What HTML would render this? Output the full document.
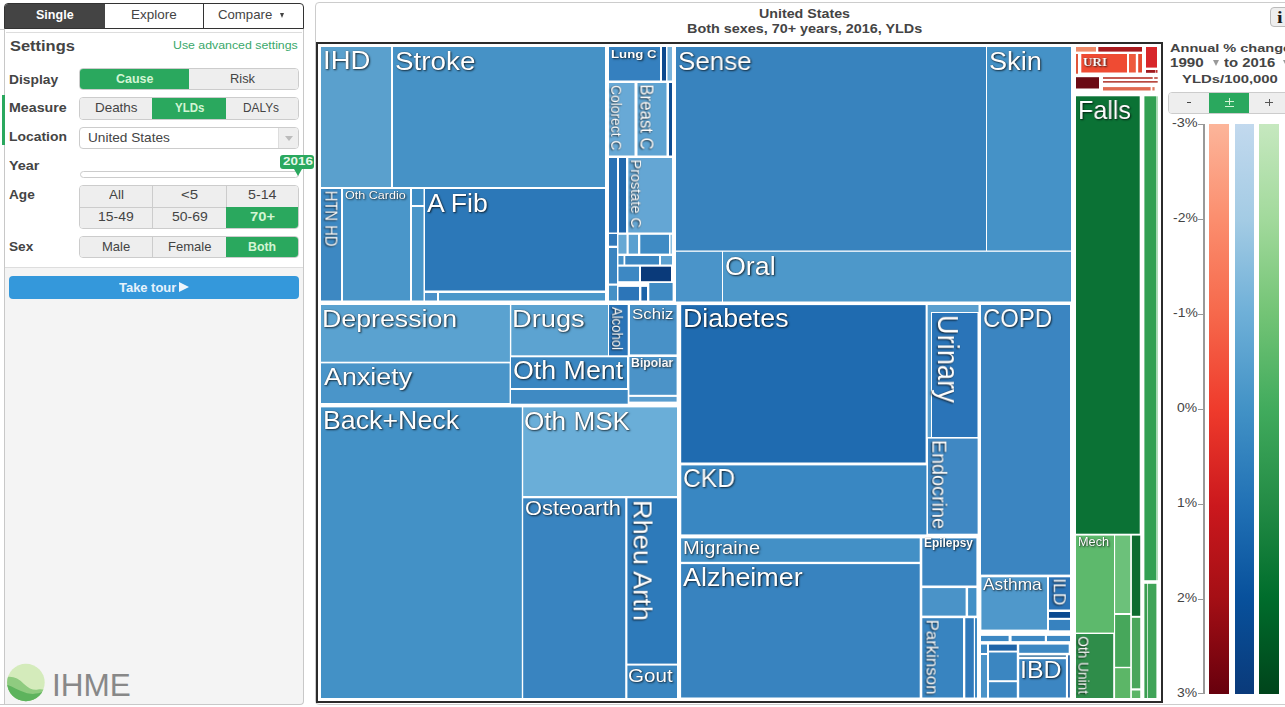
<!DOCTYPE html>
<html><head><meta charset="utf-8">
<style>
*{box-sizing:border-box;margin:0;padding:0}
html,body{width:1285px;height:707px;overflow:hidden;background:#fff;font-family:"Liberation Sans",sans-serif;color:#444}
.a{position:absolute}
.t{position:absolute}
.l{position:absolute;white-space:nowrap;color:#fff;transform-origin:0 0;text-shadow:1px 1px 2px rgba(0,0,0,.7),0 0 1px rgba(0,0,0,.6);will-change:transform}
.lbl{position:absolute;font-weight:bold;font-size:13px;color:#444;white-space:nowrap}
.btn{position:absolute;background:#eee;border:1px solid #ccc;font-size:12.5px;color:#444;text-align:center;white-space:nowrap}
.btn.on{background:#2aa85e;border-color:#2aa85e;color:#d8f5dc;font-weight:bold}
.seg{position:absolute;border-radius:4px;overflow:hidden;border:1px solid #ccc}
.seg div{position:absolute;top:0;bottom:0;background:#eee;font-size:12.5px;color:#444;text-align:center;white-space:nowrap;border-left:1px solid #ccc}
.seg div.on{background:#2aa85e;color:#d8f5dc;font-weight:bold;border-left-color:#2aa85e}
.x{position:absolute;white-space:nowrap;transform-origin:0 0}
</style></head><body>

<!-- LEFT PANEL -->
<div class="a" style="left:4px;top:28px;width:300px;height:676.8px;border:1px solid #c8c8c8;border-top:none;border-radius:0 0 4px 0;background:#f4f4f4"></div>
<div class="a" style="left:0;top:703.8px;width:6px;height:1px;background:#c8c8c8"></div>
<div class="a" style="left:0;top:29px;width:4.5px;height:1px;background:#ccc"></div>
<div class="a" style="left:5px;top:28.6px;width:298px;height:238.6px;background:#fff"></div>
<div class="a" style="left:5px;top:267px;width:298px;height:1px;background:#ddd"></div>
<div class="a" style="left:6px;top:32px;width:296px;height:1px;background:#ddd"></div>
<div class="a" style="left:1.5px;top:95px;width:3.5px;height:49.5px;background:#2aa85e"></div>

<!-- tabs -->
<div class="a" style="left:4px;top:2.5px;width:300px;height:26.5px;border:1px solid #333;border-radius:4px 4px 0 0;background:#fff;overflow:hidden">
  <div class="a" style="left:0;top:0;width:100px;height:100%;background:#444;color:#fff;font-weight:bold;font-size:12.5px;text-align:center;line-height:25px"></div>
  <div class="a" style="left:100px;top:0;width:99px;height:100%;border-right:1px solid #333;font-size:12.5px;text-align:center;line-height:25px;color:#444"></div>
  <div class="a" style="left:199px;top:0;width:100px;height:100%;font-size:12.5px;text-align:center;line-height:25px;color:#444"></div>
</div>



<div class="seg" style="left:79px;top:68.3px;width:219.5px;height:22.2px">
  <div class="on" style="left:0;width:109px;line-height:20px;border-left:none"></div>
  <div style="left:109px;right:0;line-height:20px;border-left:none"></div>
</div>
<div class="seg" style="left:79px;top:97.4px;width:219.5px;height:22.3px">
  <div style="left:0;width:72px;line-height:20px;border-left:none"></div>
  <div class="on" style="left:72px;width:74px;line-height:20px;border-left:none"></div>
  <div style="left:146px;right:0;line-height:20px;border-left:none"></div>
</div>
<div class="a" style="left:79px;top:126.5px;width:219.5px;height:22px;border:1px solid #ccc;border-radius:4px;background:#fff;overflow:hidden">
    <div class="a" style="right:0;top:0;width:19.5px;height:100%;background:#eee;border-left:1px solid #ddd"></div>
  <div class="a" style="right:5px;top:8px;width:0;height:0;border-left:4.5px solid transparent;border-right:4.5px solid transparent;border-top:5px solid #bbb"></div>
</div>
<!-- slider -->
<div class="a" style="left:79.5px;top:171.3px;width:219px;height:6.4px;border:1px solid #ccc;border-radius:4px;background:#fff"></div>
<div class="a" style="left:280px;top:155.3px;width:34px;height:13.3px;background:#2aa85e;border-radius:3px;color:#e8f8ea;font-weight:bold;font-size:10.5px;line-height:13px;text-align:center"></div>
<div class="a" style="left:293.5px;top:168.5px;width:0;height:0;border-left:4.5px solid transparent;border-right:4.5px solid transparent;border-top:7px solid #2aa85e"></div>

<div class="seg" style="left:79.3px;top:184.7px;width:219.5px;height:44.8px">
  <div style="left:0;width:72px;height:22px;line-height:21px;border-left:none"></div>
  <div style="left:72px;width:74px;height:22px;line-height:21px"></div>
  <div style="left:146px;right:0;height:22px;line-height:21px"></div>
  <div style="left:0;width:72px;top:21.8px;line-height:21px;border-left:none;border-top:1px solid #ccc"></div>
  <div style="left:72px;width:74px;top:21.8px;line-height:21px;border-top:1px solid #ccc"></div>
  <div class="on" style="left:146px;right:0;top:21.8px;line-height:21px;border-top:1px solid #2aa85e"></div>
</div>
<div class="seg" style="left:79.3px;top:236.4px;width:219.5px;height:22px">
  <div style="left:0;width:72px;line-height:20px;border-left:none"></div>
  <div style="left:72px;width:74px;line-height:20px"></div>
  <div class="on" style="left:146px;right:0;line-height:20px"></div>
</div>

<div class="a" style="left:9px;top:276.2px;width:290px;height:22.4px;background:#3498db;border-radius:4px;color:#e8f4fc;font-weight:bold;font-size:12.5px;line-height:22px;text-align:center"></div>

<!-- IHME logo -->
<svg class="a" style="left:0;top:650px" width="60" height="57" viewBox="0 650 60 57">
  <defs><clipPath id="cc"><circle cx="25.9" cy="682.5" r="18.8"/></clipPath></defs>
  <circle cx="25.9" cy="682.5" r="18.8" fill="#d4ebbb"/>
  <g clip-path="url(#cc)">
    <path d="M5 677.5 C12 675.5 18 678 24 684 C29 689 34 690.5 38 689.5 C41 689 43 689.5 46 690 L46 705 L5 705Z" fill="#8fcb80"/>
    <path d="M5 684 C12 686 18 690 25 692.5 C32 695 38 694 46 691 L46 705 L5 705Z" fill="#5db35d"/>
  </g>
</svg>

<!-- CHART PANEL -->
<div class="a" style="left:314.5px;top:2px;width:990px;height:702.5px;border:1px solid #ccc;border-radius:4px;background:#fff"></div>
<div class="a" style="left:1270px;top:7px;width:30px;height:19.6px;border:1px solid #bbb;border-radius:4px;background:#eee"></div>
<div class="a" style="left:1276.6px;top:6.6px;font-family:'Liberation Serif',serif;font-weight:bold;font-size:17.5px;color:#1a1a1a;transform:scaleX(1.15);transform-origin:0 0">i</div>

<!-- treemap -->
<div class="a" style="left:316px;top:42px;width:846.7px;height:660.5px;border:2px solid #2b2b2b;background:#fff"></div>
<svg class="a" style="left:0;top:0" width="1285" height="707"><rect x="321" y="47" width="70" height="140" fill="#5aa0cd"/><rect x="393" y="47" width="212" height="140" fill="#4692c6"/><rect x="321" y="189" width="20" height="111.5" fill="#3d88c2"/><rect x="343" y="189" width="67" height="111.5" fill="#4a96c9"/><rect x="412" y="189" width="11.5" height="16" fill="#3f8dc4"/><rect x="412" y="207" width="11.5" height="93.5" fill="#4a96c9"/><rect x="425" y="189" width="180" height="101.5" fill="#2c78b8"/><rect x="425" y="293" width="12" height="7.5" fill="#4a90c8"/><rect x="439" y="293" width="166" height="7.5" fill="#4b97ca"/><rect x="609" y="47" width="51" height="33.5" fill="#3580bf"/><rect x="662" y="47" width="4" height="33.5" fill="#0d4a8f"/><rect x="667.5" y="47" width="4.5" height="33.5" fill="#7ab3db"/><rect x="609" y="83" width="25.5" height="72.5" fill="#68a9d6"/><rect x="637.5" y="83" width="29" height="72.5" fill="#5ea3d2"/><rect x="669" y="83" width="3" height="72.5" fill="#0f4d92"/><rect x="609" y="158" width="8" height="74.5" fill="#2a72b5"/><rect x="619" y="158" width="7" height="74.5" fill="#2068ad"/><rect x="628.3" y="158" width="43.7" height="74.5" fill="#64a6d4"/><rect x="609" y="234" width="8" height="11.7" fill="#2f78b9"/><rect x="609" y="248" width="8" height="35.5" fill="#3a84c0"/><rect x="609" y="285.7" width="8" height="14.8" fill="#4590c6"/><rect x="618.5" y="234.8" width="8" height="18.8" fill="#66a8d4"/><rect x="628.7" y="234.8" width="9.3" height="18.8" fill="#5aa0d0"/><rect x="640.3" y="234.8" width="28.7" height="18.8" fill="#3f8bc4"/><rect x="670.5" y="234.8" width="1.5" height="18.8" fill="#8cc0e0"/><rect x="618.5" y="256" width="5" height="8.5" fill="#4791c7"/><rect x="625.3" y="256" width="33.7" height="8.5" fill="#3b86c1"/><rect x="661" y="256" width="11" height="8.5" fill="#5ea2d1"/><rect x="618.5" y="266.7" width="20.5" height="14.5" fill="#3d88c3"/><rect x="641" y="266.7" width="30" height="14.5" fill="#0a3a7a"/><rect x="618.5" y="286.9" width="20.5" height="13.6" fill="#2c75b8"/><rect x="641.4" y="286.9" width="5.6" height="13.6" fill="#1c63a8"/><rect x="649.3" y="283" width="23.3" height="17.6" fill="#3f8bc4"/><rect x="676" y="47" width="310" height="203.5" fill="#3883be"/><rect x="987" y="47" width="84" height="203.5" fill="#4592c7"/><rect x="676" y="251.8" width="46" height="49.7" fill="#4a94c9"/><rect x="723" y="251.8" width="348" height="49.7" fill="#4d98ca"/><rect x="321" y="305" width="188.9" height="56.7" fill="#5aa2d0"/><rect x="321" y="363.4" width="188.6" height="39.6" fill="#4a95c9"/><rect x="511.3" y="305" width="96.7" height="50.3" fill="#5ca3d1"/><rect x="609" y="305" width="18.7" height="50.3" fill="#2a74b8"/><rect x="630" y="305" width="46.6" height="49.4" fill="#4891c7"/><rect x="511" y="357.3" width="116" height="30.7" fill="#3a86c1"/><rect x="511" y="390" width="116.7" height="13.7" fill="#3f8ac3"/><rect x="629.4" y="357" width="47.2" height="37.8" fill="#4b93c8"/><rect x="629.4" y="396.9" width="47.2" height="4.7" fill="#5a9ecf"/><rect x="321" y="407.4" width="200.8" height="290.6" fill="#4391c6"/><rect x="523.2" y="407.4" width="153.8" height="88.6" fill="#6aaed8"/><rect x="523.2" y="498.3" width="102" height="199.7" fill="#3984c0"/><rect x="627.4" y="498.3" width="49.6" height="165.3" fill="#2d7aba"/><rect x="627.4" y="665.6" width="49.6" height="32.4" fill="#3a86c1"/><rect x="681.2" y="305.1" width="244.4" height="157.4" fill="#1f6bb0"/><rect x="681.3" y="465.4" width="245.1" height="69" fill="#3987c2"/><rect x="927.7" y="305" width="50.8" height="7" fill="#5a9fcf"/><rect x="927.7" y="312" width="3.3" height="125" fill="#5aa0d0"/><rect x="932" y="313" width="45.5" height="124" fill="#2a74b8"/><rect x="928" y="438.6" width="49.6" height="95.1" fill="#4088c3"/><rect x="681.1" y="538.4" width="238.6" height="23.4" fill="#4390c6"/><rect x="681.1" y="564.1" width="238.6" height="133.4" fill="#3883bf"/><rect x="922.3" y="538.4" width="54.1" height="47.1" fill="#3c86c1"/><rect x="922.3" y="588.1" width="43.3" height="27.5" fill="#4a93c8"/><rect x="968.1" y="588.1" width="8.3" height="27.5" fill="#4390c6"/><rect x="922.3" y="618.2" width="40.7" height="79.3" fill="#3884c0"/><rect x="965.3" y="618.2" width="8.5" height="79.3" fill="#2f79ba"/><rect x="975" y="618.2" width="2" height="79.3" fill="#3d88c3"/><rect x="981" y="305" width="89" height="269.6" fill="#3b85c1"/><rect x="981.4" y="577.3" width="65.6" height="52.3" fill="#4f98cb"/><rect x="1049" y="577.3" width="21" height="32.2" fill="#2b73b7"/><rect x="1049" y="612" width="21" height="5.8" fill="#0b4a91"/><rect x="1049" y="619.9" width="21" height="10.4" fill="#3782bf"/><rect x="981" y="635.9" width="27.6" height="5.2" fill="#3d88c3"/><rect x="1011.6" y="635.9" width="33.2" height="5.2" fill="#3d88c3"/><rect x="1047" y="635.9" width="23" height="5.2" fill="#3d88c3"/><rect x="981" y="644.6" width="6" height="8.4" fill="#3d88c3"/><rect x="981" y="655" width="6" height="42.6" fill="#4a93c8"/><rect x="989" y="644.6" width="27.8" height="6" fill="#1f64a8"/><rect x="989" y="652.5" width="27.8" height="27.7" fill="#3b86c1"/><rect x="989" y="682.2" width="27.8" height="15.4" fill="#3b86c1"/><rect x="1019.2" y="644.6" width="49.5" height="8.2" fill="#3d88c3"/><rect x="1019.2" y="655.3" width="46.7" height="1.6" fill="#4d80a8"/><rect x="1019.2" y="659.2" width="46.7" height="38.3" fill="#3c86c2"/><rect x="1068.1" y="655.3" width="1.7" height="42.2" fill="#1f5fa5"/><rect x="1076" y="47" width="20" height="4.6" fill="#f08a68"/><rect x="1098.3" y="47" width="43.7" height="4.6" fill="#a81a1f"/><rect x="1146" y="47" width="11" height="20.6" fill="#d8262a"/><rect x="1076" y="54" width="2" height="19.7" fill="#e0553a"/><rect x="1081.3" y="54" width="45.7" height="18.5" fill="#ef4b33"/><rect x="1129" y="54" width="6.8" height="18.5" fill="#ee5a3d"/><rect x="1138.2" y="54" width="3.8" height="18.5" fill="#e44a30"/><rect x="1146" y="70" width="9" height="2.8" fill="#a01a1f"/><rect x="1076" y="77.2" width="23" height="11.3" fill="#6b0a14"/><rect x="1103" y="77.1" width="49.7" height="1.8" fill="#c04a40"/><rect x="1103" y="81" width="54.7" height="1.7" fill="#b84a40"/><rect x="1103" y="87.1" width="47.6" height="3.4" fill="#e06a50"/><rect x="1155.5" y="70" width="2" height="2.8" fill="#c03030"/><rect x="1154.2" y="77.1" width="3.5" height="1.8" fill="#c05a50"/><rect x="1152.4" y="87.1" width="2.2" height="3.4" fill="#e07a60"/><rect x="1076" y="96.3" width="63.7" height="437.4" fill="#0b7235"/><rect x="1144.4" y="96.3" width="12" height="483.9" fill="#32a052"/><rect x="1156.9" y="96.3" width="0.7" height="483.9" fill="#7cc888"/><rect x="1076" y="535.6" width="38" height="97" fill="#5db96c"/><rect x="1076" y="634" width="37.2" height="64" fill="#2f8d4a"/><rect x="1115.1" y="535.6" width="15.1" height="77.4" fill="#6cc17a"/><rect x="1115.1" y="615" width="15.1" height="51.8" fill="#47a75b"/><rect x="1115.1" y="668.2" width="15.1" height="29.8" fill="#5cb667"/><rect x="1131.9" y="535.6" width="8.3" height="80.2" fill="#0d6b2f"/><rect x="1131.9" y="617.8" width="8.3" height="70.5" fill="#4aa65b"/><rect x="1131.9" y="690.5" width="8.3" height="7.5" fill="#5cb567"/><rect x="1144.4" y="583.8" width="2.9" height="114.2" fill="#3b9e52"/><rect x="1148" y="583.8" width="8.4" height="114.2" fill="#40a458"/></svg>
<div class="l" style="left:322.82px;top:48.43px;font-size:25.36px;line-height:25.36px;transform:scaleX(1.085);">IHD</div>
<div class="l" style="left:394.55px;top:47.64px;font-size:26.52px;line-height:26.52px;transform:scaleX(1.049);">Stroke</div>
<div class="l" style="left:345.03px;top:189.06px;font-size:11.74px;line-height:11.74px;transform:scaleX(1.072);">Oth Cardio</div>
<div class="l" style="left:426.8px;top:189.52px;font-size:26.67px;line-height:26.67px;transform:scaleX(1.001);">A Fib</div>
<div class="l" style="left:610.54px;top:49.23px;font-size:11.3px;line-height:11.3px;transform:scaleX(1.172);font-weight:bold;">Lung C</div>
<div class="l" style="left:677.73px;top:47.69px;font-size:26.23px;line-height:26.23px;transform:scaleX(0.990);">Sense</div>
<div class="l" style="left:988.88px;top:47.69px;font-size:26.23px;line-height:26.23px;transform:scaleX(1.035);">Skin</div>
<div class="l" style="left:724.69px;top:252.77px;font-size:26.38px;line-height:26.38px;transform:scaleX(1.017);">Oral</div>
<div class="l" style="left:322.26px;top:307.26px;font-size:24.49px;line-height:24.49px;transform:scaleX(1.092);">Depression</div>
<div class="l" style="left:323.6px;top:365.06px;font-size:24.49px;line-height:24.49px;transform:scaleX(1.099);">Anxiety</div>
<div class="l" style="left:512.22px;top:306.74px;font-size:24.64px;line-height:24.64px;transform:scaleX(1.106);">Drugs</div>
<div class="l" style="left:631.64px;top:306.61px;font-size:14.64px;line-height:14.64px;transform:scaleX(1.157);">Schiz</div>
<div class="l" style="left:512.7px;top:358.17px;font-size:25.07px;line-height:25.07px;transform:scaleX(1.068);">Oth Ment</div>
<div class="l" style="left:630.8px;top:357.27px;font-size:12.32px;line-height:12.32px;transform:scaleX(0.994);font-weight:bold;">Bipolar</div>
<div class="l" style="left:322.66px;top:408.25px;font-size:25.22px;line-height:25.22px;transform:scaleX(1.061);">Back+Neck</div>
<div class="l" style="left:524.42px;top:407.91px;font-size:26.09px;line-height:26.09px;transform:scaleX(1.002);">Oth MSK</div>
<div class="l" style="left:524.62px;top:498.69px;font-size:19.86px;line-height:19.86px;transform:scaleX(1.099);">Osteoarth</div>
<div class="l" style="left:628.47px;top:666.55px;font-size:18.84px;line-height:18.84px;transform:scaleX(1.094);">Gout</div>
<div class="l" style="left:682.56px;top:306.47px;font-size:25.07px;line-height:25.07px;transform:scaleX(1.067);">Diabetes</div>
<div class="l" style="left:683.07px;top:465.93px;font-size:25.36px;line-height:25.36px;transform:scaleX(0.973);">CKD</div>
<div class="l" style="left:682.69px;top:539.36px;font-size:18.12px;line-height:18.12px;transform:scaleX(1.111);">Migraine</div>
<div class="l" style="left:683.4px;top:565.45px;font-size:25.22px;line-height:25.22px;transform:scaleX(1.068);">Alzheimer</div>
<div class="l" style="left:923.93px;top:538.34px;font-size:11.88px;line-height:11.88px;transform:scaleX(1.002);font-weight:bold;">Epilepsy</div>
<div class="l" style="left:982.9px;top:306.23px;font-size:25.36px;line-height:25.36px;transform:scaleX(0.943);">COPD</div>
<div class="l" style="left:983.2px;top:577.34px;font-size:16.96px;line-height:16.96px;transform:scaleX(1.023);">Asthma</div>
<div class="l" style="left:1019.75px;top:659.49px;font-size:23.04px;line-height:23.04px;transform:scaleX(1.083);">IBD</div>
<div class="l" style="left:1078.09px;top:96.71px;font-size:26.09px;line-height:26.09px;transform:scaleX(0.961);">Falls</div>
<div class="l" style="left:1077.68px;top:536.49px;font-size:12.17px;line-height:12.17px;transform:scaleX(1.046);">Mech</div>
<div class="l" style="left:0;top:0;font-size:16.52px;line-height:16.52px;transform:translate(338.39px,190.72px) rotate(90deg) scaleX(0.895)">HTN HD</div>
<div class="l" style="left:0;top:0;font-size:15.51px;line-height:15.51px;transform:translate(624.23px,85.01px) rotate(90deg) scaleX(0.893)">Colorect C</div>
<div class="l" style="left:0;top:0;font-size:18.41px;line-height:18.41px;transform:translate(655.48px,84.35px) rotate(90deg) scaleX(0.914)">Breast C</div>
<div class="l" style="left:0;top:0;font-size:13.91px;line-height:13.91px;transform:translate(642.08px,159.54px) rotate(90deg) scaleX(1.041)">Prostate C</div>
<div class="l" style="left:0;top:0;font-size:13.77px;line-height:13.77px;transform:translate(623.16px,306.9px) rotate(90deg) scaleX(0.958)">Alcohol</div>
<div class="l" style="left:0;top:0;font-size:28.7px;line-height:28.7px;transform:translate(961.9px,314.85px) rotate(90deg) scaleX(0.953)">Urinary</div>
<div class="l" style="left:0;top:0;font-size:26.67px;line-height:26.67px;transform:translate(655.58px,499.82px) rotate(90deg) scaleX(1.022)">Rheu Arth</div>
<div class="l" style="left:0;top:0;font-size:20.29px;line-height:20.29px;transform:translate(949.38px,439.91px) rotate(90deg) scaleX(0.977)">Endocrine</div>
<div class="l" style="left:0;top:0;font-size:16.96px;line-height:16.96px;transform:translate(939.56px,619.65px) rotate(90deg) scaleX(0.994)">Parkinson</div>
<div class="l" style="left:0;top:0;font-size:16.67px;line-height:16.67px;transform:translate(1066.71px,578.44px) rotate(90deg) scaleX(1.039)">ILD</div>
<div class="l" style="left:0;top:0;font-size:14.06px;line-height:14.06px;transform:translate(1090.4px,636.28px) rotate(90deg) scaleX(0.974)">Oth Unint</div>
<div class="l" style="left:1083.07px;top:54.54px;font-size:13.29px;line-height:13.29px;transform:scaleX(0.983);font-weight:bold;font-family:'Liberation Serif',serif;">URI</div>

<!-- LEGEND -->
<div class="seg" style="left:1168.3px;top:91.5px;width:125px;height:22.4px">
  <div style="left:0;width:39.9px;line-height:20px;border-left:none"></div>
  <div class="on" style="left:39.9px;width:39.8px;line-height:20px;border-left:none"></div>
  <div style="left:79.7px;right:0;line-height:20px;border-left:none"></div>
</div>
<div class="a" style="left:1203px;top:124px;width:1.6px;height:570px;background:#999"></div>
<div class="a" style="left:1198px;top:123.5px;width:6px;height:1.2px;background:#999"></div>
<div class="a" style="left:1198px;top:693px;width:6px;height:1.2px;background:#999"></div>
<div class="a" style="left:1198px;top:218.5px;width:5px;height:1.2px;background:#999"></div>
<div class="a" style="left:1198px;top:313.5px;width:5px;height:1.2px;background:#999"></div>
<div class="a" style="left:1198px;top:408.5px;width:5px;height:1.2px;background:#999"></div>
<div class="a" style="left:1198px;top:503.5px;width:5px;height:1.2px;background:#999"></div>
<div class="a" style="left:1198px;top:598.5px;width:5px;height:1.2px;background:#999"></div>
<div class="a" style="left:1209px;top:124px;width:20px;height:569.5px;background:linear-gradient(#fcb59a,#fb8d6d 17%,#f6694c 33%,#ef3b2c 50%,#cb181d 67%,#a50f15 83%,#67000d)"></div>
<div class="a" style="left:1234.5px;top:124px;width:19.5px;height:569.5px;background:linear-gradient(#c2d9ee,#a3cbe4 17%,#6fb0d8 33%,#4292c6 50%,#2171b5 67%,#08519c 83%,#0a3a7a)"></div>
<div class="a" style="left:1259px;top:124px;width:20px;height:569.5px;background:linear-gradient(#c6e8bf,#a1d99b 17%,#74c476 33%,#41ab5d 50%,#238b45 67%,#006d2c 83%,#00441b)"></div>

<div class="x" style="left:35.62px;top:9.37px;font-size:12.32px;line-height:12.32px;transform:scaleX(1.018);font-weight:bold;color:#fff">Single</div>
<div class="x" style="left:131.22px;top:9.49px;font-size:12.17px;line-height:12.17px;transform:scaleX(1.107);color:#444">Explore</div>
<div class="x" style="left:217.94px;top:9.37px;font-size:12.32px;line-height:12.32px;transform:scaleX(1.072);color:#444">Compare</div>
<div class="x" style="left:10.11px;top:39.94px;font-size:13.77px;line-height:13.77px;transform:scaleX(1.194);font-weight:bold;color:#444">Settings</div>
<div class="x" style="left:173.37px;top:40.47px;font-size:11.01px;line-height:11.01px;transform:scaleX(1.121);color:#3aa86b">Use advanced settings</div>
<div class="x" style="left:9px;top:72.91px;font-size:13.33px;line-height:13.33px;transform:scaleX(1.035);font-weight:bold;color:#444">Display</div>
<div class="x" style="left:8.68px;top:102.17px;font-size:12.32px;line-height:12.32px;transform:scaleX(1.154);font-weight:bold;color:#444">Measure</div>
<div class="x" style="left:8.7px;top:130.31px;font-size:13.33px;line-height:13.33px;transform:scaleX(1.043);font-weight:bold;color:#444">Location</div>
<div class="x" style="left:9.31px;top:160.47px;font-size:12.32px;line-height:12.32px;transform:scaleX(1.171);font-weight:bold;color:#444">Year</div>
<div class="x" style="left:9.16px;top:189.2px;font-size:12.75px;line-height:12.75px;transform:scaleX(1.067);font-weight:bold;color:#444">Age</div>
<div class="x" style="left:9.09px;top:241.22px;font-size:12.61px;line-height:12.61px;transform:scaleX(1.082);font-weight:bold;color:#444">Sex</div>
<div class="x" style="left:115.8px;top:72.95px;font-size:12.46px;line-height:12.46px;transform:scaleX(1.001);font-weight:bold;color:#d2f5d4">Cause</div>
<div class="x" style="left:230.47px;top:72.95px;font-size:12.46px;line-height:12.46px;transform:scaleX(1.032);color:#444">Risk</div>
<div class="x" style="left:94.73px;top:102.05px;font-size:12.46px;line-height:12.46px;transform:scaleX(1.077);color:#444">Deaths</div>
<div class="x" style="left:174.77px;top:102.05px;font-size:12.46px;line-height:12.46px;transform:scaleX(0.920);font-weight:bold;color:#d2f5d4">YLDs</div>
<div class="x" style="left:243.45px;top:102.05px;font-size:12.46px;line-height:12.46px;transform:scaleX(0.952);color:#444">DALYs</div>
<div class="x" style="left:87.58px;top:130.53px;font-size:13.19px;line-height:13.19px;transform:scaleX(1.034);color:#444">United States</div>
<div class="x" style="left:109.2px;top:189.29px;font-size:12.17px;line-height:12.17px;transform:scaleX(1.100);color:#444">All</div>
<div class="x" style="left:181.35px;top:189.29px;font-size:12.17px;line-height:12.17px;transform:scaleX(1.236);color:#444">&lt;5</div>
<div class="x" style="left:248.33px;top:189.29px;font-size:12.17px;line-height:12.17px;transform:scaleX(1.170);color:#444">5-14</div>
<div class="x" style="left:98.45px;top:211.27px;font-size:12.32px;line-height:12.32px;transform:scaleX(1.133);color:#444">15-49</div>
<div class="x" style="left:171.84px;top:211.27px;font-size:12.32px;line-height:12.32px;transform:scaleX(1.134);color:#444">50-69</div>
<div class="x" style="left:249.61px;top:211.27px;font-size:12.32px;line-height:12.32px;transform:scaleX(1.196);font-weight:bold;color:#d2f5d4">70+</div>
<div class="x" style="left:102.16px;top:241.19px;font-size:12.17px;line-height:12.17px;transform:scaleX(1.071);color:#444">Male</div>
<div class="x" style="left:167.56px;top:241.19px;font-size:12.17px;line-height:12.17px;transform:scaleX(1.072);color:#444">Female</div>
<div class="x" style="left:248.1px;top:241.19px;font-size:12.17px;line-height:12.17px;transform:scaleX(1.016);font-weight:bold;color:#d2f5d4">Both</div>
<div class="x" style="left:118.67px;top:280.63px;font-size:13.19px;line-height:13.19px;transform:scaleX(0.981);font-weight:bold;color:#e6f2fb">Take tour</div>
<div class="x" style="left:283.03px;top:156.3px;font-size:10.87px;line-height:10.87px;transform:scaleX(1.238);font-weight:bold;color:#e8f8ea">2016</div>
<div class="x" style="left:759.04px;top:8.15px;font-size:12.46px;line-height:12.46px;transform:scaleX(1.144);font-weight:bold;color:#444">United States</div>
<div class="x" style="left:687.16px;top:22.7px;font-size:12.75px;line-height:12.75px;transform:scaleX(1.128);font-weight:bold;color:#444">Both sexes, 70+ years, 2016, YLDs</div>
<div class="x" style="left:1169.74px;top:43.01px;font-size:11.45px;line-height:11.45px;transform:scaleX(1.271);font-weight:bold;color:#444">Annual % change</div>
<div class="x" style="left:1169.79px;top:57.64px;font-size:11.88px;line-height:11.88px;transform:scaleX(1.275);font-weight:bold;color:#444">1990</div>
<div class="x" style="left:1224.25px;top:57.64px;font-size:11.88px;line-height:11.88px;transform:scaleX(1.252);font-weight:bold;color:#444">to 2016</div>
<div class="x" style="left:1181.7px;top:73.91px;font-size:11.45px;line-height:11.45px;transform:scaleX(1.300);font-weight:bold;color:#444">YLDs/100,000</div>
<div class="x" style="left:1171.75px;top:116.88px;font-size:12.9px;line-height:12.9px;transform:scaleX(1.122);color:#444">-3%</div>
<div class="x" style="left:51.96px;top:669.73px;font-size:31.74px;line-height:31.74px;transform:scaleX(0.993);color:#888">IHME</div>
<div class="x" style="left:1172.69px;top:211.68px;font-size:12.9px;line-height:12.9px;transform:scaleX(1.080);color:#444">-2%</div>
<div class="x" style="left:1172.69px;top:306.68px;font-size:12.9px;line-height:12.9px;transform:scaleX(1.080);color:#444">-1%</div>
<div class="x" style="left:1177.36px;top:401.68px;font-size:12.9px;line-height:12.9px;transform:scaleX(1.080);color:#444">0%</div>
<div class="x" style="left:1177.36px;top:496.68px;font-size:12.9px;line-height:12.9px;transform:scaleX(1.080);color:#444">1%</div>
<div class="x" style="left:1177.36px;top:591.68px;font-size:12.9px;line-height:12.9px;transform:scaleX(1.080);color:#444">2%</div>
<div class="x" style="left:1177.36px;top:686.68px;font-size:12.9px;line-height:12.9px;transform:scaleX(1.080);color:#444">3%</div>
<div class="a" style="left:280.4px;top:13.4px;width:0;height:0;border-left:2.7px solid transparent;border-right:2.7px solid transparent;border-top:5.7px solid #444"></div>
<div class="a" style="left:179px;top:282.4px;width:0;height:0;border-top:5.25px solid transparent;border-bottom:5.25px solid transparent;border-left:10.8px solid #eef6fc"></div>
<div class="a" style="left:1212.5px;top:60.1px;width:0;height:0;border-left:3.7px solid transparent;border-right:3.7px solid transparent;border-top:6.2px solid #999"></div>
<div class="a" style="left:1283.3px;top:60.1px;width:0;height:0;border-left:3.7px solid transparent;border-right:3.7px solid transparent;border-top:6.2px solid #999"></div>
<div class="a" style="left:1186.5px;top:101.6px;width:4.8px;height:1.6px;background:#444"></div>
<div class="a" style="left:1265.2px;top:102.2px;width:7.9px;height:1.1px;background:#555"></div>
<div class="a" style="left:1268.6px;top:99.1px;width:1.1px;height:7.4px;background:#555"></div>
<div class="a" style="left:1225px;top:100.5px;width:9px;height:1.5px;background:#d2f5d4"></div>
<div class="a" style="left:1228.8px;top:97.5px;width:1.5px;height:7.5px;background:#d2f5d4"></div>
<div class="a" style="left:1225px;top:105.5px;width:9px;height:1.5px;background:#d2f5d4"></div>
</body></html>
